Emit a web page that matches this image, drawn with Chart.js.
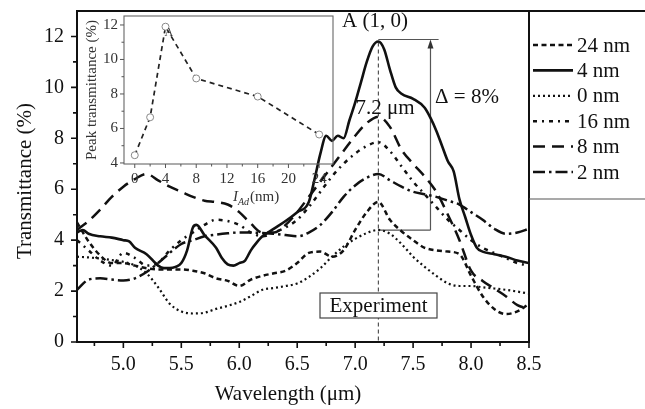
<!DOCTYPE html>
<html><head><meta charset="utf-8">
<script src="https://cdn.jsdelivr.net/npm/chart.js@4.4.0/dist/chart.umd.min.js"></script>
<style>
html,body{margin:0;padding:0;background:#fff;}
#wrap{position:relative;width:645px;height:409px;overflow:hidden;}
#wrap canvas{position:absolute;left:0;top:0;}
</style></head><body>
<div id="wrap"><canvas id="main" width="645" height="409"></canvas><canvas id="inset" width="645" height="409"></canvas></div>
<script>
// ---------- data ----------
const wavelength = [4.6,4.7,4.8,4.9,5.0,5.1,5.2,5.3,5.4,5.5,5.6,5.7,5.8,5.9,6.0,6.1,6.2,6.3,6.4,6.5,6.6,6.7,6.8,6.9,7.0,7.1,7.2,7.3,7.4,7.5,7.6,7.7,7.8,7.9,8.0,8.1,8.2,8.3,8.4,8.5];
const t24nm = [4.7,3.95,3.4,3.1,3.1,3.0,2.9,2.85,2.85,2.85,2.8,2.7,2.5,2.4,2.2,2.45,2.6,2.7,2.8,3.1,3.5,3.55,3.35,3.6,4.4,5.1,5.5,4.8,4.35,4.0,3.7,3.6,3.55,3.45,2.6,1.8,1.3,1.1,1.2,1.5];
const t0nm  = [3.35,3.32,3.28,3.22,3.15,3.0,2.7,2.15,1.5,1.2,1.12,1.15,1.3,1.42,1.57,1.8,2.05,2.12,2.2,2.3,2.55,2.9,3.35,3.75,4.05,4.28,4.4,4.25,3.85,3.35,2.95,2.6,2.3,2.2,2.2,2.15,2.1,2.05,1.98,1.9];
const t16nm = [4.0,3.6,3.2,3.0,3.5,3.3,3.0,3.1,3.6,4.0,4.3,4.6,4.8,4.75,4.6,4.3,4.15,4.3,4.5,4.8,5.3,5.9,6.5,7.0,7.4,7.7,7.85,7.5,6.9,6.3,5.8,5.3,4.8,4.4,4.0,3.7,3.5,3.3,3.1,3.0];
const t8nm  = [4.4,4.75,5.2,5.7,6.1,6.4,6.6,6.35,6.1,5.9,5.7,5.55,5.5,5.4,5.1,4.65,4.3,4.3,4.6,5.1,5.7,6.3,6.9,7.5,8.1,8.6,8.85,8.45,7.55,7.0,6.5,5.9,5.0,4.0,2.8,2.4,2.1,1.8,1.45,1.3];
const t2nm  = [2.05,2.45,2.5,2.45,2.42,2.5,2.75,3.1,3.5,3.85,4.0,4.15,4.22,4.27,4.3,4.3,4.28,4.25,4.2,4.15,4.3,4.6,5.1,5.7,6.15,6.45,6.6,6.35,6.1,5.9,5.8,5.7,5.55,5.4,5.1,4.8,4.45,4.25,4.3,4.45];
const wavelength4nm = [4.6,4.65,4.7,4.8,4.9,5.0,5.05,5.1,5.2,5.3,5.35,5.4,5.45,5.5,5.55,5.6,5.63,5.7,5.8,5.85,5.9,5.95,6.0,6.05,6.1,6.15,6.2,6.3,6.4,6.5,6.6,6.65,6.7,6.75,6.8,6.85,6.9,6.95,7.0,7.05,7.1,7.15,7.2,7.25,7.3,7.35,7.4,7.5,7.6,7.65,7.7,7.75,7.8,7.85,7.9,7.95,8.0,8.05,8.1,8.2,8.3,8.4,8.5];
const t4nm  = [4.3,4.4,4.25,4.15,4.1,4.0,3.95,3.7,3.45,3.0,2.9,2.9,2.95,3.1,3.6,4.5,4.6,4.2,3.7,3.3,3.05,3.0,3.1,3.2,3.6,3.9,4.15,4.45,4.75,5.1,5.5,6.4,7.4,8.1,7.9,8.1,8.0,8.7,9.4,10.2,11.0,11.6,11.8,11.5,10.7,10.0,9.75,9.55,9.2,8.8,8.3,7.7,7.1,6.7,5.6,4.9,4.2,3.7,3.55,3.45,3.35,3.2,3.1];
const seriesLabels = ['24 nm','4 nm','0 nm','16 nm','8 nm','2 nm'];

const xMajorTicks = [5.0,5.5,6.0,6.5,7.0,7.5,8.0,8.5];
const xMinorTicks = [4.75,5.25,5.75,6.25,6.75,7.25,7.75,8.25];
const yMajorTicks = [0,2,4,6,8,10,12];
const yMinorTicks = [1,3,5,7,9,11];

// inset
const insetThickness = [0,2,4,8,16,24];
const insetPeak = [4.45,6.65,11.9,8.9,7.85,5.65];
const insetXMajor = [0,4,8,12,16,20,24];
const insetXMinor = [2,6,10,14,18,22];
const insetYMajor = [4,6,8,10,12];
const insetYMinor = [5,7,9,11];

// annotations (data coordinates)
const peakWavelength = 7.2;
const deltaTop = 11.88, deltaBottom = 4.39, deltaArrowX = 7.65, deltaTopEnd = 7.72;

// ---------- styles ----------
const FONT = '"Liberation Serif", "Times New Roman", serif';
const INK = '#111';
const styles = [
  {dash:[5,3.5], width:2.5},
  {dash:[], width:2.6},
  {dash:[2,3], width:2.2},
  {dash:[4,5,2,5], width:2.5},
  {dash:[12,7], width:2.5},
  {dash:[12,4,2.5,4], width:2.5}
];
const seriesY = [t24nm, t4nm, t0nm, t16nm, t8nm, t2nm];
const seriesX = [wavelength, wavelength4nm, wavelength, wavelength, wavelength, wavelength];

const datasets = seriesLabels.map((lab, i) => ({
  label: lab,
  data: seriesX[i].map((w, j) => ({x: w, y: seriesY[i][j]})),
  borderColor: INK,
  borderWidth: styles[i].width,
  borderDash: styles[i].dash,
  pointRadius: 0,
  fill: false,
  cubicInterpolationMode: 'monotone',
  borderCapStyle: 'butt'
}));

function tickMarks(ctx, scaleX, scaleY, a, xMaj, xMin, yMaj, yMin, lMaj, lMin, color, lw) {
  ctx.save();
  ctx.strokeStyle = color; ctx.lineWidth = lw; ctx.setLineDash([]);
  ctx.beginPath();
  xMaj.forEach(v => { const p = scaleX.getPixelForValue(v); ctx.moveTo(p, a.bottom); ctx.lineTo(p, a.bottom + lMaj); });
  xMin.forEach(v => { const p = scaleX.getPixelForValue(v); ctx.moveTo(p, a.bottom); ctx.lineTo(p, a.bottom + lMin); });
  yMaj.forEach(v => { const p = scaleY.getPixelForValue(v); ctx.moveTo(a.left, p); ctx.lineTo(a.left - lMaj, p); });
  yMin.forEach(v => { const p = scaleY.getPixelForValue(v); ctx.moveTo(a.left, p); ctx.lineTo(a.left - lMin, p); });
  ctx.stroke();
  ctx.restore();
}

const mainDecor = {
  id: 'mainDecor',
  beforeDatasetsDraw(chart) {
    const {ctx, chartArea: a, scales: {x, y}} = chart;
    const px = v => x.getPixelForValue(v), py = v => y.getPixelForValue(v);
    ctx.save();
    ctx.strokeStyle = '#333'; ctx.lineWidth = 1; ctx.setLineDash([4,3]);
    ctx.beginPath(); ctx.moveTo(px(peakWavelength), py(deltaTop) + 3); ctx.lineTo(px(peakWavelength), a.bottom); ctx.stroke();
    ctx.setLineDash([]);
    ctx.strokeStyle = '#555'; ctx.lineWidth = 1.2;
    ctx.beginPath();
    ctx.moveTo(px(peakWavelength), py(deltaTop)); ctx.lineTo(px(deltaTopEnd), py(deltaTop));
    ctx.moveTo(px(peakWavelength), py(deltaBottom)); ctx.lineTo(px(deltaArrowX), py(deltaBottom));
    ctx.moveTo(px(deltaArrowX), py(deltaBottom)); ctx.lineTo(px(deltaArrowX), py(deltaTop) + 6);
    ctx.stroke();
    ctx.fillStyle = '#333';
    ctx.beginPath();
    const ax = px(deltaArrowX), ay = py(deltaTop);
    ctx.moveTo(ax, ay); ctx.lineTo(ax - 3, ay + 9); ctx.lineTo(ax + 3, ay + 9); ctx.closePath(); ctx.fill();
    ctx.restore();
  },
  afterDraw(chart) {
    const {ctx, chartArea: a, scales: {x, y}} = chart;
    ctx.save();
    const bx0 = 320, bx1 = 437, by0 = 293, by1 = 318;
    ctx.fillStyle = '#fff'; ctx.fillRect(bx0, by0, bx1 - bx0, by1 - by0);
    ctx.strokeStyle = '#444'; ctx.lineWidth = 1.2; ctx.strokeRect(bx0, by0, bx1 - bx0, by1 - by0);
    ctx.fillStyle = '#111'; ctx.font = '21px ' + FONT; ctx.textAlign = 'center'; ctx.textBaseline = 'middle';
    ctx.fillText('Experiment', (bx0 + bx1) / 2, (by0 + by1) / 2 + 1);
    ctx.strokeStyle = '#111'; ctx.lineWidth = 2;
    ctx.strokeRect(a.left, a.top, a.right - a.left, a.bottom - a.top);
    ctx.beginPath(); ctx.moveTo(a.right, a.top); ctx.lineTo(650, a.top); ctx.stroke();
    ctx.strokeStyle = '#555'; ctx.lineWidth = 1.2;
    ctx.beginPath(); ctx.moveTo(a.right, 199); ctx.lineTo(650, 199); ctx.stroke();
    chart.data.datasets.forEach((ds, i) => {
      const ry = 45 + i * 25.4;
      ctx.strokeStyle = INK; ctx.lineWidth = ds.borderWidth; ctx.setLineDash(ds.borderDash);
      ctx.beginPath(); ctx.moveTo(533, ry); ctx.lineTo(573, ry); ctx.stroke();
      ctx.setLineDash([]);
      ctx.fillStyle = '#111'; ctx.font = '21px ' + FONT; ctx.textAlign = 'left'; ctx.textBaseline = 'middle';
      ctx.fillText(ds.label, 577, ry + 1);
    });
    ctx.fillStyle = '#111'; ctx.textAlign = 'center'; ctx.textBaseline = 'middle'; ctx.font = '21px ' + FONT;
    ctx.fillText('A (1, 0)', 375, 21);
    ctx.fillText('7.2 \u03BCm', 385, 108);
    ctx.fillText('\u0394 = 8%', 467, 97);
    ctx.fillText('Wavelength (\u03BCm)', 288, 394);
    ctx.save(); ctx.translate(25, 181); ctx.rotate(-Math.PI / 2);
    ctx.fillText('Transmittance (%)', 0, 0); ctx.restore();
    ctx.restore();
    tickMarks(ctx, x, y, a, xMajorTicks, xMinorTicks, yMajorTicks, yMinorTicks, 6, 4, '#111', 1.6);
  }
};

new Chart(document.getElementById('main'), {
  type: 'line',
  data: {datasets},
  options: {
    responsive: false, animation: false, devicePixelRatio: 1,
    layout: {padding: {left: 0, top: 11, right: 116, bottom: 0}},
    plugins: {legend: {display: false}, tooltip: {enabled: false}},
    scales: {
      x: {type: 'linear', min: 4.6, max: 8.5,
        grid: {display: false, drawTicks: false}, border: {display: false},
        afterBuildTicks: s => { s.ticks = xMajorTicks.map(v => ({value: v})); },
        afterFit: s => { s.height = 67; s.paddingLeft = 0; s.paddingRight = 0; },
        ticks: {autoSkip: false, maxRotation: 0, padding: 11, color: '#111', font: {family: FONT, size: 20},
          callback: v => Number(v).toFixed(1)}},
      y: {type: 'linear', min: 0, max: 13,
        grid: {display: false, drawTicks: false}, border: {display: false},
        afterBuildTicks: s => { s.ticks = yMajorTicks.map(v => ({value: v})); },
        afterFit: s => { s.width = 77; s.paddingTop = 0; s.paddingBottom = 0; },
        ticks: {autoSkip: false, padding: 13, color: '#111', font: {family: FONT, size: 20},
          callback: v => String(v)}}
    }
  },
  plugins: [mainDecor]
});

// ---------- inset ----------
const insetDecor = {
  id: 'insetDecor',
  afterDraw(chart) {
    const {ctx, chartArea: a, scales: {x, y}} = chart;
    ctx.save();
    ctx.strokeStyle = '#666'; ctx.lineWidth = 1.1;
    ctx.strokeRect(a.left, a.top, a.right - a.left, a.bottom - a.top);
    ctx.restore();
    tickMarks(ctx, x, y, a, insetXMajor, insetXMinor, insetYMajor, insetYMinor, 4, 2.5, '#555', 1);
    ctx.save();
    ctx.fillStyle = '#333'; ctx.textBaseline = 'middle'; ctx.textAlign = 'left';
    ctx.font = 'italic 15px ' + FONT; ctx.fillText('I', 233, 197);
    ctx.font = 'italic 10px ' + FONT; ctx.fillText('Ad', 238, 202);
    ctx.font = '15px ' + FONT; ctx.fillText('(nm)', 250, 197);
    ctx.font = '12px ' + FONT; ctx.textAlign = 'center';
    ctx.fillText('A', x.getPixelForValue(4.45), y.getPixelForValue(11.55));
    ctx.restore();
  }
};

new Chart(document.getElementById('inset'), {
  type: 'line',
  data: {
    labels: insetThickness,
    datasets: [{
      data: insetThickness.map((t, i) => ({x: t, y: insetPeak[i]})),
      borderColor: '#222', borderWidth: 1.7, borderDash: [5, 4],
      pointRadius: 3.5, pointBackgroundColor: '#fff', pointBorderColor: '#888', pointBorderWidth: 1,
      tension: 0, fill: false
    }]
  },
  options: {
    responsive: false, animation: false, devicePixelRatio: 1,
    layout: {padding: {left: 80, top: 16, right: 312, bottom: 205}},
    plugins: {legend: {display: false}, tooltip: {enabled: false}},
    scales: {
      x: {type: 'linear', min: -1.4, max: 25.8,
        grid: {display: false, drawTicks: false}, border: {display: false},
        afterBuildTicks: s => { s.ticks = insetXMajor.map(v => ({value: v})); },
        afterFit: s => { s.height = 40; s.paddingLeft = 0; s.paddingRight = 0; },
        ticks: {autoSkip: false, maxRotation: 0, padding: 6, color: '#333', font: {family: FONT, size: 15},
          callback: v => String(v)}},
      y: {type: 'linear', min: 3.94, max: 12.52,
        grid: {display: false, drawTicks: false}, border: {display: false},
        afterBuildTicks: s => { s.ticks = insetYMajor.map(v => ({value: v})); },
        afterFit: s => { s.width = 44; s.paddingTop = 0; s.paddingBottom = 0; },
        title: {display: true, text: 'Peak transmittance (%)', color: '#333', font: {family: FONT, size: 15}, padding: {top: 3, bottom: 0}},
        ticks: {autoSkip: false, padding: 6, color: '#333', font: {family: FONT, size: 15},
          callback: v => String(v)}}
    }
  },
  plugins: [insetDecor]
});
</script>
</body></html>
